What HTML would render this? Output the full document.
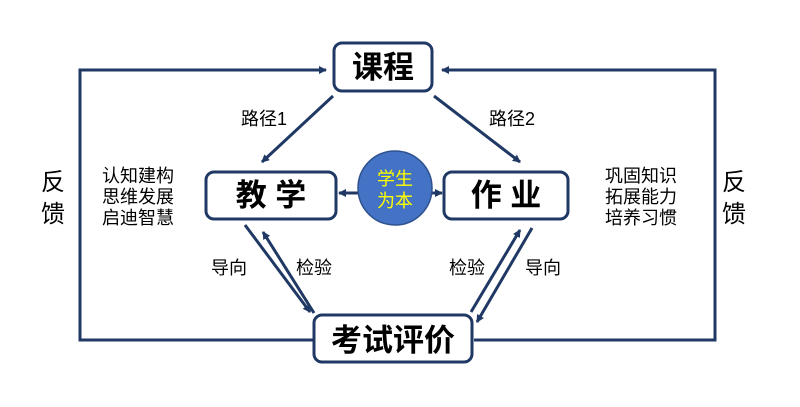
<!DOCTYPE html>
<html><head><meta charset="utf-8"><style>
body{margin:0;background:#fff;width:800px;height:402px;overflow:hidden}
svg text{font-family:"Liberation Sans","Noto Sans CJK SC",sans-serif}
</style></head><body>
<svg width="800" height="402" viewBox="0 0 800 402" xmlns="http://www.w3.org/2000/svg">
<defs><marker id="a" markerWidth="8" markerHeight="8" refX="7" refY="4" orient="auto" markerUnits="userSpaceOnUse" viewBox="0 0 8 8"><path d="M0,0 L8,4 L0,8 z" fill="#1f3864"/></marker></defs>
<g stroke="#1f3864" stroke-width="3" fill="none">
<polyline points="313,340 80,340 80,70 326,70" marker-end="url(#a)"/>
<polyline points="474,340 715,340 715,70 442,70" marker-end="url(#a)"/>
<line x1="333" y1="96" x2="262" y2="162" marker-end="url(#a)"/>
<line x1="434" y1="96" x2="520" y2="162" marker-end="url(#a)"/>
<line x1="245" y1="225" x2="310" y2="312" marker-end="url(#a)"/>
<line x1="314" y1="313" x2="263" y2="232" marker-end="url(#a)"/>
<line x1="471" y1="312" x2="520" y2="230" marker-end="url(#a)"/>
<line x1="532" y1="228" x2="477" y2="322" marker-end="url(#a)"/>
<line x1="358" y1="193" x2="339" y2="193" marker-end="url(#a)"/>
<line x1="432" y1="193" x2="442" y2="193" marker-end="url(#a)"/>
</g>
<g stroke="#1f3864" stroke-width="3" fill="#fff">
<rect x="334" y="43" width="98" height="48" rx="8"/>
<rect x="206" y="172" width="130" height="47" rx="8"/>
<rect x="444" y="172" width="124" height="47" rx="8"/>
<rect x="314" y="315" width="158" height="47" rx="8"/>
</g>
<circle cx="395" cy="188" r="37" fill="#4472c4" stroke="#2f528f" stroke-width="1.5"/>
<g font-weight="bold" font-size="31" fill="#000" text-anchor="middle">
<text x="383" y="78">课程</text>
<text x="271" y="206">教 学</text>
<text x="506" y="206">作 业</text>
<text x="393" y="351">考试评价</text>
</g>
<g font-size="18" fill="#ffff00" text-anchor="middle">
<text x="395" y="185">学生</text><text x="395" y="207">为本</text>
</g>
<g font-size="18" fill="#000">
<text x="241" y="125">路径1</text><text x="489" y="125">路径2</text>
<text x="211" y="274">导向</text><text x="296" y="274">检验</text>
<text x="449" y="274">检验</text><text x="525" y="274">导向</text>
<text x="102" y="182">认知建构</text><text x="102" y="203">思维发展</text><text x="102" y="224">启迪智慧</text>
<text x="605" y="182">巩固知识</text><text x="605" y="203">拓展能力</text><text x="605" y="224">培养习惯</text>
</g>
<g font-size="24" fill="#000">
<text x="41" y="190">反</text><text x="41" y="222">馈</text>
<text x="722" y="190">反</text><text x="722" y="222">馈</text>
</g>
</svg>
</body></html>
